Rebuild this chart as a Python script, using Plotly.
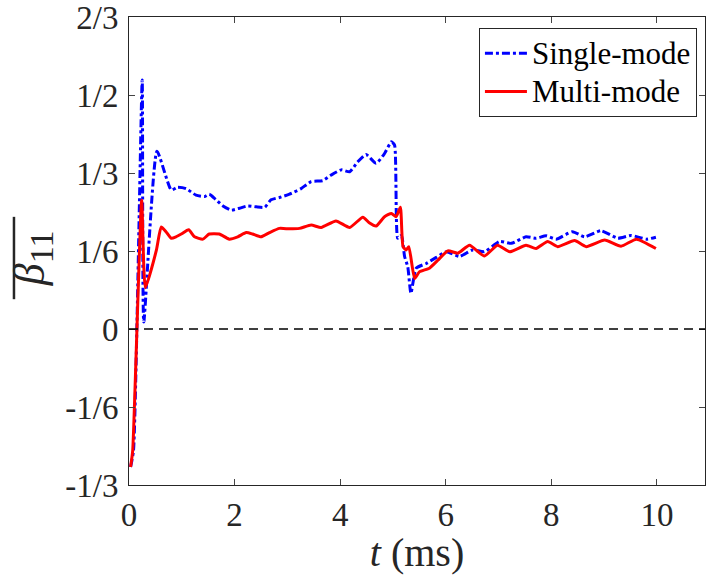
import plotly.graph_objects as go

single_t = [0.03, 0.085, 0.25, 0.28, 0.53, 0.80, 0.92, 1.08, 1.27, 1.43, 1.52, 1.65, 1.78, 1.94, 2.09, 2.25,
            2.41, 2.57, 2.69, 2.85, 3.04, 3.26, 3.45, 3.67, 3.83, 4.02, 4.18, 4.33, 4.49, 4.68, 4.84, 4.97,
            5.03, 5.09, 5.16, 5.22, 5.28, 5.34, 5.44, 5.63, 5.82, 6.01, 6.26, 6.51, 6.73, 7.02, 7.24, 7.52,
            7.71, 7.90, 8.09, 8.40, 8.63, 8.94, 9.26, 9.51, 9.80, 9.98]
single_b = [-0.295, -0.26, 0.532, 0.015, 0.38, 0.297, 0.303, 0.30, 0.286, 0.283, 0.288, 0.276, 0.263, 0.254,
            0.258, 0.263, 0.261, 0.26, 0.276, 0.281, 0.288, 0.30, 0.315, 0.317, 0.329, 0.34, 0.336, 0.357,
            0.373, 0.354, 0.375, 0.40, 0.393, 0.194, 0.20, 0.155, 0.133, 0.076, 0.13, 0.14, 0.153, 0.165,
            0.155, 0.169, 0.165, 0.187, 0.183, 0.197, 0.194, 0.199, 0.192, 0.208, 0.197, 0.21, 0.194, 0.20,
            0.192, 0.196]

multi_t = [0.03, 0.07, 0.24, 0.31, 0.52, 0.61, 0.70, 0.80, 0.89, 0.99, 1.13, 1.24, 1.40, 1.52, 1.71, 1.90,
           2.06, 2.22, 2.34, 2.50, 2.66, 2.85, 3.04, 3.23, 3.45, 3.64, 3.92, 4.18, 4.43, 4.55, 4.68, 4.84,
           4.97, 5.06, 5.14, 5.19, 5.25, 5.30, 5.41, 5.50, 5.69, 5.85, 6.04, 6.23, 6.45, 6.73, 6.98, 7.21,
           7.52, 7.71, 7.93, 8.12, 8.44, 8.66, 9.01, 9.32, 9.61, 9.98]
multi_b = [-0.295, -0.26, 0.275, 0.088, 0.169, 0.218, 0.208, 0.194, 0.197, 0.203, 0.212, 0.197, 0.192,
           0.203, 0.203, 0.192, 0.197, 0.206, 0.203, 0.197, 0.206, 0.215, 0.214, 0.215, 0.222, 0.217, 0.231,
           0.217, 0.239, 0.227, 0.22, 0.24, 0.247, 0.24, 0.26, 0.176, 0.169, 0.176, 0.108, 0.122, 0.13,
           0.147, 0.167, 0.162, 0.179, 0.156, 0.179, 0.165, 0.179, 0.172, 0.187, 0.176, 0.189, 0.176, 0.19,
           0.177, 0.192, 0.172]

series_names = ["Single-mode", "Multi-mode"]
y_tick_vals = [-1/3, -1/6, 0, 1/6, 1/3, 1/2, 2/3]
y_tick_text = ["-1/3", "-1/6", "0", "1/6", "1/3", "1/2", "2/3"]
x_tick_vals = [0, 2, 4, 6, 8, 10]

FONT = "Liberation Serif"
AX = "#262626"


def legend_label(s):
    return f'<span style="font-size:31px">{s}</span>'


fig = go.Figure()
fig.add_trace(go.Scatter(x=single_t, y=single_b, mode="lines", name=legend_label(series_names[0]),
                         line=dict(color="#0000ff", width=3, dash="8px,3px,3px,3px",
                                   shape="spline", smoothing=0.5)))
fig.add_trace(go.Scatter(x=multi_t, y=multi_b, mode="lines", name=legend_label(series_names[1]),
                         line=dict(color="#ff0000", width=3, shape="spline", smoothing=0.5)))

# zero reference line
fig.add_shape(type="line", xref="x", yref="y", x0=0, x1=11, y0=0, y1=0,
              line=dict(color="black", width=1.5, dash="9px,6px"))

# y-axis title (beta bar 11) as rotated annotation + overline
fig.add_annotation(xref="paper", yref="paper", x=-0.168, y=0.485, xanchor="center", yanchor="middle",
                   textangle=-90, showarrow=False,
                   text='<i>β</i><sub><span style="font-size:34px">11</span></sub>',
                   font=dict(family=FONT, size=44, color=AX))
fig.add_shape(type="line", xref="paper", yref="paper", x0=-0.1997, x1=-0.1997, y0=0.397, y1=0.573,
              line=dict(color=AX, width=2.5))

fig.update_layout(
    width=706, height=575,
    margin=dict(l=129, r=1, t=17, b=90),
    plot_bgcolor="white", paper_bgcolor="white",
    font=dict(family=FONT, size=33, color=AX),
    showlegend=True,
    legend=dict(x=0.986, y=0.976, xanchor="right", yanchor="top",
                bgcolor="white", bordercolor=AX, borderwidth=1,
                font=dict(family=FONT, size=27, color="black"),
                tracegroupgap=0, itemwidth=42),
    xaxis=dict(range=[0, 10.91], tickvals=x_tick_vals, ticks="inside", ticklen=6,
               showline=True, linecolor=AX, linewidth=1, mirror="ticks", showgrid=False,
               zeroline=False, tickfont=dict(family=FONT, size=33, color=AX),
               ticklabeloverflow="allow",
               title=dict(text="<i>t</i> (ms)", font=dict(family=FONT, size=40, color=AX), standoff=4)),
    yaxis=dict(range=[-1/3, 2/3], tickvals=y_tick_vals, ticktext=y_tick_text, ticks="inside",
               ticklen=6, showline=True, linecolor=AX, linewidth=1, mirror="ticks", showgrid=False,
               zeroline=False, tickfont=dict(family=FONT, size=33, color=AX),
               ticklabeloverflow="allow", ticklabelstandoff=3),
)

fig.write_html("out.html", config={"displayModeBar": False},
               post_script="document.body.style.margin='0';")
